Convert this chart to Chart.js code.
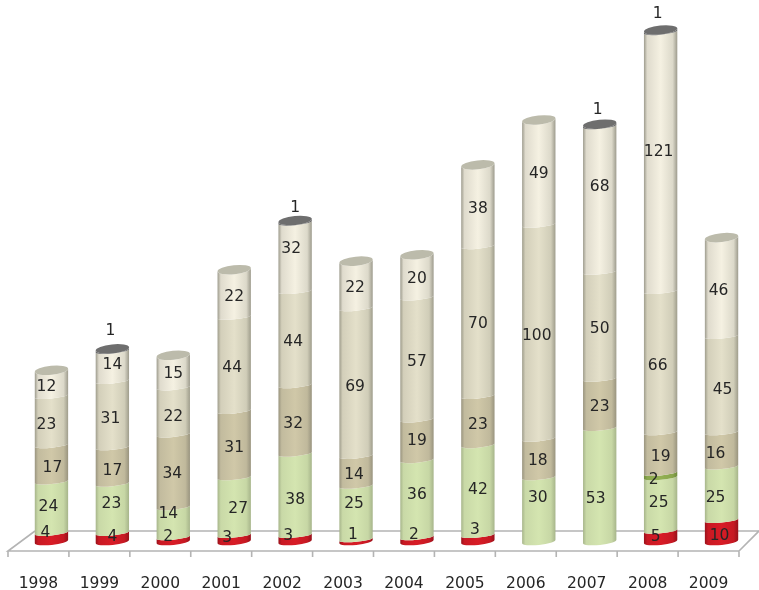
<!DOCTYPE html>
<html>
<head>
<meta charset="utf-8">
<title>Stacked cylinders 1998-2009</title>
<script src="https://cdn.jsdelivr.net/npm/chart.js@4/dist/chart.umd.js"></script>
<style>
    html, body { margin: 0; padding: 0; background: #fff; }
    canvas { display: block; }
</style>
</head>
<body>
<canvas id="stackChart" width="759" height="590"></canvas>
<script>
const years = ['1998', '1999', '2000', '2001', '2002', '2003', '2004', '2005', '2006', '2007', '2008', '2009'];

// Stack order, bottom to top
const redValues       = [4, 4, 2, 3, 3, 1, 2, 3, 0, 0, 5, 10];
const lightGreenValues = [24, 23, 14, 27, 38, 25, 36, 42, 30, 53, 25, 25];
const darkGreenValues = [0, 0, 0, 0, 0, 0, 0, 0, 0, 0, 2, 0];
const tanValues       = [17, 17, 34, 31, 32, 14, 19, 23, 18, 23, 19, 16];
const paleValues      = [23, 31, 22, 44, 44, 69, 57, 70, 100, 50, 66, 45];
const creamValues     = [12, 14, 15, 22, 32, 22, 20, 38, 49, 68, 121, 46];
const grayValues      = [0, 1, 0, 0, 1, 0, 0, 0, 0, 1, 1, 0];

// edge / middle colours of the cylinder shading, plus the colour of the lid
const seriesStyles = [
    { name: 'red',        values: redValues,        edge: '#96111a', mid: '#d81c26', lid: '#a01218' },
    { name: 'lightGreen', values: lightGreenValues, edge: '#a6b48a', mid: '#d4e5b0', lid: '#aebc90' },
    { name: 'darkGreen',  values: darkGreenValues,  edge: '#6f8a3c', mid: '#93b052', lid: '#6f8a3c' },
    { name: 'tan',        values: tanValues,        edge: '#98937e', mid: '#d0c8a8', lid: '#a5a08a' },
    { name: 'pale',       values: paleValues,       edge: '#9e9c8b', mid: '#e4e0ca', lid: '#aeac9a' },
    { name: 'cream',      values: creamValues,      edge: '#9c9a8c', mid: '#f5f1e2', lid: '#bcbbab' },
    { name: 'gray',       values: grayValues,       edge: '#6a6a6a', mid: '#727272', lid: '#6e6e6e' }
];

// small [dx, dy] shifts for the value labels, per year, non-zero segments only
const labelShift = {
    '1998': [[-6, -7], [-3, -3], [1, 2], [-5, 1], [-5, 1]],
    '1999': [[0, -3], [-1, -7], [0, 2], [-2, 2], [0, -4], [-2, -22]],
    '2000': [[-5, -5], [-5, -11], [-1, 0], [0, 3], [0, 0]],
    '2001': [[-7, -3], [4, 0], [0, 1], [-2, 1], [0, 1]],
    '2002': [[-7, -5], [0, 3], [-2, 1], [-2, 1], [-4, -11], [0, -17]],
    '2003': [[-3, -8], [-2, -12], [-2, 1], [-1, 2], [-1, 0]],
    '2004': [[-3, -7], [0, -7], [0, -2], [0, 0], [0, 0]],
    '2005': [[-3, -11], [0, -3], [0, 1], [0, 0], [0, 0]],
    '2006': [[-1, -14], [-1, 0], [-2, 1], [0, -1]],
    '2007': [[-4, 11], [0, 0], [0, 1], [0, -15], [-2, -18]],
    '2008': [[-5, -2], [-2, -4], [-7, 2], [0, 1], [-3, 1], [-2, -13], [-3, -20]],
    '2009': [[-2, 2], [-6, 2], [-6, 1], [1, 3], [-3, 1]]
};

// the ellipses flatten from the lid down to the joints between segments
const LID_RY = 4.5;
const BASE_RY = 3.5;
const JOINT_RY = 2.5;
const TILT = -0.1;
// the columns stand halfway back on the floor, right of their category centre
const DEPTH_SHIFT = 13;

function mix(a, b, t) {
    const ch = (hex, i) => parseInt(hex.substr(1 + i * 2, 2), 16);
    const parts = [0, 1, 2].map(i => Math.round(ch(a, i) * (1 - t) + ch(b, i) * t));
    return `rgb(${parts.join(',')})`;
}

function drawFloor(ctx, chart) {
    const x = chart.scales.x;
    const frontY = chart.chartArea.bottom + 9.5;
    const backY = chart.chartArea.bottom - 10.5;
    ctx.save();
    ctx.strokeStyle = '#b4b4b4';
    ctx.lineWidth = 1.6;
    ctx.beginPath();
    ctx.moveTo(x.left + 27, backY);
    ctx.lineTo(x.right + 20, backY);
    ctx.moveTo(x.left + 27, backY);
    ctx.lineTo(x.left, frontY);
    ctx.lineTo(x.right, frontY);
    ctx.lineTo(x.right + 22, backY - 2);
    // one tick at every category boundary
    const step = x.width / years.length;
    for (let i = 0; i <= years.length; i++) {
        ctx.moveTo(x.left + i * step, frontY);
        ctx.lineTo(x.left + i * step, frontY + 6);
    }
    ctx.stroke();
    ctx.restore();
}

function drawSegment(ctx, bar, style, isBottom, isTop) {
    const rx = bar.width / 2;
    const cx = bar.x + DEPTH_SHIFT;
    const grad = ctx.createLinearGradient(cx - rx, 0, cx + rx, 0);
    grad.addColorStop(0, style.edge);
    grad.addColorStop(0.1, mix(style.edge, style.mid, 0.75));
    grad.addColorStop(0.5, style.mid);
    grad.addColorStop(0.86, mix(style.edge, style.mid, 0.72));
    grad.addColorStop(1, style.edge);
    ctx.fillStyle = grad;
    ctx.beginPath();
    ctx.ellipse(cx, bar.base, rx, isBottom ? BASE_RY : JOINT_RY, TILT, 0, Math.PI);
    ctx.ellipse(cx, bar.y, rx, isTop ? LID_RY : JOINT_RY, TILT, Math.PI, 0, true);
    ctx.closePath();
    ctx.fill();
}

const cylinderPlugin = {
    id: 'cylinders',
    // replaces the flat bars, so the default dataset drawing is cancelled
    beforeDatasetsDraw(chart) {
        const ctx = chart.ctx;
        drawFloor(ctx, chart);

        years.forEach((year, i) => {
            const visible = seriesStyles.map((style, s) => s).filter(s => seriesStyles[s].values[i]);
            visible.forEach((s, n) => {
                const bar = chart.getDatasetMeta(s).data[i];
                drawSegment(ctx, bar, seriesStyles[s], n === 0, n === visible.length - 1);
            });
            const last = visible[visible.length - 1];
            const topBar = chart.getDatasetMeta(last).data[i];
            ctx.fillStyle = seriesStyles[last].lid;
            ctx.beginPath();
            ctx.ellipse(topBar.x + DEPTH_SHIFT, topBar.y, topBar.width / 2, LID_RY, TILT, 0, Math.PI * 2);
            ctx.fill();
        });

        ctx.save();
        ctx.font = '15.5px "DejaVu Sans"';
        ctx.fillStyle = '#262626';
        ctx.textAlign = 'center';
        ctx.textBaseline = 'middle';
        years.forEach((year, i) => {
            let n = 0;
            seriesStyles.forEach((style, s) => {
                const value = style.values[i];
                if (!value) return;
                const bar = chart.getDatasetMeta(s).data[i];
                const shift = labelShift[year][n++];
                ctx.fillText(value, bar.x + DEPTH_SHIFT + shift[0], (bar.y + bar.base) / 2 + 3 + shift[1]);
            });
        });
        ctx.restore();
        return false;
    }
};

new Chart(document.getElementById('stackChart').getContext('2d'), {
    type: 'bar',
    data: {
        labels: years,
        datasets: seriesStyles.map(style => ({
            label: style.name,
            data: style.values,
            backgroundColor: style.mid
        }))
    },
    options: {
        responsive: false,
        animation: false,
        barPercentage: 0.55,
        categoryPercentage: 1,
        layout: { padding: { left: 8, right: 20, top: 6.5, bottom: 0 } },
        plugins: {
            legend: { display: false },
            title: { display: false },
            tooltip: { enabled: false }
        },
        scales: {
            x: {
                stacked: true,
                grid: { display: false },
                border: { display: false },
                // the year labels may overhang the plot, no side padding for them
                afterFit(scale) {
                    scale.height = 48.5;
                    scale.paddingLeft = 0;
                    scale.paddingRight = 0;
                },
                ticks: {
                    autoSkip: false,
                    maxRotation: 0,
                    padding: 25,
                    color: '#262626',
                    font: { family: '"DejaVu Sans"', size: 15.5 }
                }
            },
            y: {
                stacked: true,
                display: false,
                min: 0,
                max: 250
            }
        }
    },
    plugins: [cylinderPlugin]
});
</script>
</body>
</html>
